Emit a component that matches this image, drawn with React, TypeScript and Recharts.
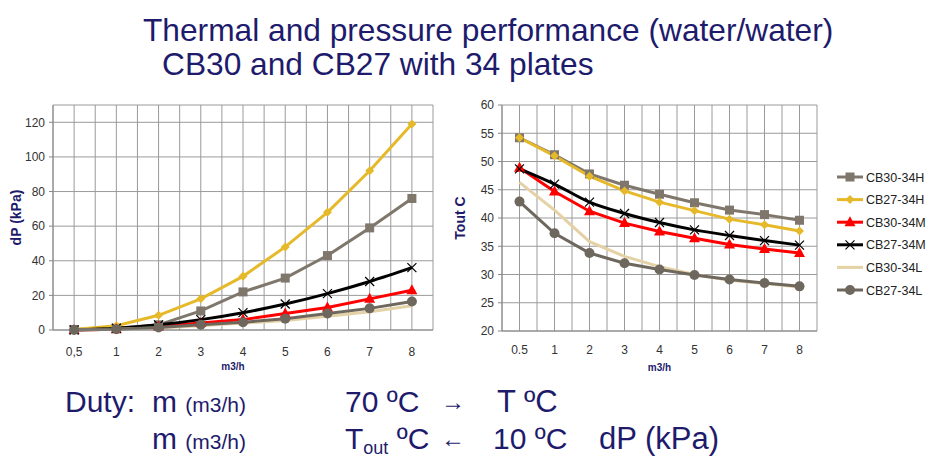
import React from "react";
import { LineChart, Line, XAxis, YAxis, CartesianGrid, Legend } from "recharts";

// flow rate categories (m3/h)
const flowLeft = ["0,5", "1", "2", "3", "4", "5", "6", "7", "8"];
const flowRight = ["0.5", "1", "2", "3", "4", "5", "6", "7", "8"];

// pressure drop dP (kPa)
const dpCB30_34H = [0.3, 1, 3, 11, 22, 30, 43, 59, 76];
const dpCB27_34H = [0.3, 2.5, 8.5, 18, 31, 48, 68, 92, 119];
const dpCB30_34M = [0, 0.5, 2, 4, 6, 9.5, 13, 18, 23];
const dpCB27_34M = [0, 1, 3, 6, 10, 15, 21, 28, 36];
const dpCB30_34L = [0, 0.4, 1.2, 2.5, 4, 5.5, 8, 10.5, 14];
const dpCB27_34L = [0, 0.5, 1.5, 3, 4.5, 6.5, 9.5, 12.5, 16.5];

// outlet temperature Tout (C)
const toutCB30_34H = [54.2, 51.2, 47.8, 45.8, 44.2, 42.7, 41.4, 40.6, 39.6];
const toutCB27_34H = [54.2, 51.0, 47.4, 44.8, 42.8, 41.3, 39.8, 38.8, 37.7];
const toutCB30_34M = [48.9, 44.7, 41.2, 39.1, 37.6, 36.4, 35.3, 34.5, 33.8];
const toutCB27_34M = [48.7, 46.0, 42.8, 40.8, 39.2, 37.9, 36.9, 36.0, 35.2];
const toutCB30_34L = [46.3, 41.4, 35.8, 33.2, 31.4, 30.0, 29.0, 28.4, 27.8];
const toutCB27_34L = [42.9, 37.3, 33.8, 32.0, 30.9, 29.9, 29.1, 28.5, 27.9];

const dpTicks = [0, 20, 40, 60, 80, 100, 120];
const toutTicks = [20, 25, 30, 35, 40, 45, 50, 55, 60];

const FONT = '"Liberation Sans", Arial, sans-serif';
const NAVY = "#1e1b6c";

const series = [
  { key: "CB30-34H", color: "#7f776b", marker: "square", curve: "linear" },
  { key: "CB27-34H", color: "#e6b92b", marker: "diamond", curve: "linear" },
  { key: "CB30-34M", color: "#ff0000", marker: "triangle", curve: "linear" },
  { key: "CB27-34M", color: "#000000", marker: "x", curve: "monotone" },
  { key: "CB30-34L", color: "#e4d2a6", marker: "none", curve: "linear" },
  { key: "CB27-34L", color: "#6e675d", marker: "circle", curve: "linear" },
];

const buildRows = (labels: string[], cols: number[][]) =>
  labels.map((label, i) => {
    const row: any = { i, label };
    series.forEach((s, k) => (row[s.key] = cols[k][i]));
    return row;
  });

const dpData = buildRows(flowLeft, [dpCB30_34H, dpCB27_34H, dpCB30_34M, dpCB27_34M, dpCB30_34L, dpCB27_34L]);
const toutData = buildRows(flowRight, [toutCB30_34H, toutCB27_34H, toutCB30_34M, toutCB27_34M, toutCB30_34L, toutCB27_34L]);

const Marker = ({ type, color, cx, cy }: any) => {
  if (cx == null || cy == null) return <g />;
  switch (type) {
    case "square":
      return <rect x={cx - 4.5} y={cy - 4.5} width={9} height={9} fill={color} />;
    case "diamond":
      return <path d={`M${cx},${cy - 4.5}L${cx + 4.5},${cy}L${cx},${cy + 4.5}L${cx - 4.5},${cy}Z`} fill={color} />;
    case "triangle":
      return <path d={`M${cx},${cy - 6}L${cx + 5.5},${cy + 4}L${cx - 5.5},${cy + 4}Z`} fill={color} />;
    case "x":
      return (
        <path d={`M${cx - 4.5},${cy - 4.5}L${cx + 4.5},${cy + 4.5}M${cx + 4.5},${cy - 4.5}L${cx - 4.5},${cy + 4.5}`} stroke={color} strokeWidth={1.2} />
      );
    case "circle":
      return <circle cx={cx} cy={cy} r={5} fill={color} />;
    default:
      return <g />;
  }
};

// gridlines on every half category, like the Excel original
const halfGrid = ({ offset }: any) => {
  const out: number[] = [];
  for (let k = 0; k <= 18; k++) out.push(offset.left + (offset.width * k) / 18);
  return out;
};

const renderLegend = () => (
  <svg width={100} height={140} style={{ fontFamily: FONT }}>
    {series.map((s, k) => {
      const y = 11 + k * 22.6;
      return (
        <g key={s.key}>
          <line x1={0} x2={26} y1={y} y2={y} stroke={s.color} strokeWidth={3} />
          <Marker type={s.marker} color={s.color} cx={13} cy={y} />
          <text x={29} y={y + 4.5} fontSize={12.5} fill="#222">
            {s.key}
          </text>
        </g>
      );
    })}
  </svg>
);

const lines = () =>
  series.map((s) => (
    <Line
      key={s.key}
      dataKey={s.key}
      type={s.curve as any}
      stroke={s.color}
      strokeWidth={3}
      isAnimationActive={false}
      dot={(p: any) => <Marker key={`${s.key}-${p.index}`} type={s.marker} color={s.color} cx={p.cx} cy={p.cy} />}
      activeDot={false}
    />
  ));

const tickStyle = { fontSize: 12, fill: "#333", fontFamily: FONT };

const big = { position: "absolute" as const, fontSize: 30, lineHeight: "34px", whiteSpace: "nowrap" as const };

export default function App() {
  return (
    <div style={{ position: "absolute", left: 0, top: 0, width: 935, height: 460, background: "#fff", fontFamily: FONT, color: NAVY, overflow: "hidden" }}>
      <div style={{ position: "absolute", left: 143, top: 12, fontSize: 31.7, whiteSpace: "nowrap", lineHeight: "36px" }}>
        Thermal and pressure performance (water/water)
      </div>
      <div style={{ position: "absolute", left: 162, top: 46, fontSize: 31.7, whiteSpace: "nowrap", lineHeight: "36px" }}>
        CB30 and CB27 with 34 plates
      </div>

      <LineChart width={450} height={382} data={dpData} margin={{ top: 105, right: 17, bottom: 8, left: 0 }} style={{ position: "absolute", left: 0, top: 0 }}>
        <CartesianGrid stroke="#9a9a9a" verticalCoordinatesGenerator={halfGrid} />
        <XAxis
          dataKey="i"
          type="number"
          domain={[-0.5, 8.5]}
          ticks={[0, 1, 2, 3, 4, 5, 6, 7, 8]}
          tickFormatter={(v: number) => flowLeft[v]}
          tick={tickStyle}
          tickLine={false}
          tickSize={4}
          tickMargin={13}
          stroke="#888"
          height={44}
          label={{ value: "m3/h", position: "insideBottom", offset: 4, dx: -10, style: { fontSize: 10, fontWeight: "bold", fill: NAVY } }}
        />
        <YAxis
          domain={[0, 130]}
          ticks={dpTicks}
          tick={tickStyle}
          tickSize={4}
          tickMargin={4}
          stroke="#888"
          width={53}
          label={{ value: "dP (kPa)", angle: -90, position: "insideLeft", offset: 16, style: { textAnchor: "middle", fontSize: 14, fontWeight: "bold", fill: NAVY } }}
        />
        {lines()}
      </LineChart>

      <LineChart width={495} height={380} data={toutData} margin={{ top: 105, right: 18, bottom: 5, left: 0 }} style={{ position: "absolute", left: 440, top: 0 }}>
        <CartesianGrid stroke="#9a9a9a" verticalCoordinatesGenerator={halfGrid} />
        <XAxis
          dataKey="i"
          type="number"
          domain={[-0.5, 8.5]}
          ticks={[0, 1, 2, 3, 4, 5, 6, 7, 8]}
          tickFormatter={(v: number) => flowRight[v]}
          tick={tickStyle}
          tickLine={false}
          tickSize={4}
          tickMargin={10}
          stroke="#888"
          height={44}
          label={{ value: "m3/h", position: "insideBottom", offset: 4, style: { fontSize: 10, fontWeight: "bold", fill: NAVY } }}
        />
        <YAxis
          domain={[20, 60]}
          ticks={toutTicks}
          tick={tickStyle}
          tickSize={4}
          tickMargin={4}
          stroke="#888"
          width={62}
          label={{ value: "Tout C", angle: -90, position: "insideLeft", offset: 20, style: { textAnchor: "middle", fontSize: 14, fontWeight: "bold", fill: NAVY } }}
        />
        {lines()}
        <Legend content={renderLegend} layout="vertical" align="right" verticalAlign="top" wrapperStyle={{ left: 397, top: 166, width: 100 }} />
      </LineChart>

      <div style={{ ...big, left: 65, top: 385 }}>Duty:</div>
      <div style={{ ...big, left: 152, top: 385 }}>
        m <span style={{ fontSize: 21 }}>(m3/h)</span>
      </div>
      <div style={{ ...big, left: 345, top: 385 }}>70 ºC</div>
      <div style={{ ...big, left: 441, top: 385, fontSize: 24 }}>→</div>
      <div style={{ ...big, left: 497, top: 385, fontSize: 31 }}>T ºC</div>

      <div style={{ ...big, left: 152, top: 422 }}>
        m <span style={{ fontSize: 21 }}>(m3/h)</span>
      </div>
      <div style={{ ...big, left: 345, top: 422 }}>
        T<sub style={{ fontSize: 18, verticalAlign: "-5px", lineHeight: "18px" }}>out</sub> ºC
      </div>
      <div style={{ ...big, left: 441, top: 422, fontSize: 24 }}>←</div>
      <div style={{ ...big, left: 493, top: 422 }}>10 ºC</div>
      <div style={{ ...big, left: 599, top: 422, fontSize: 31 }}>dP (kPa)</div>
    </div>
  );
}
